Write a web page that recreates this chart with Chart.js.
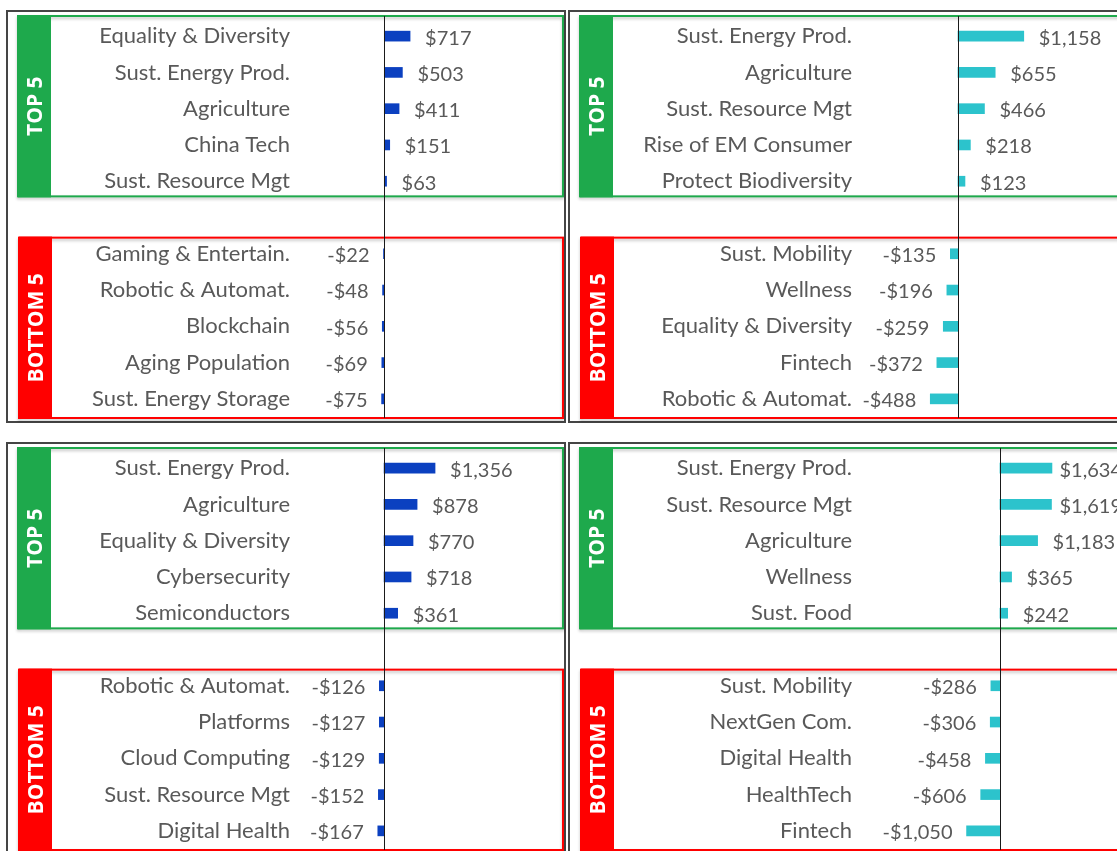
<!DOCTYPE html>
<html>
<head>
<meta charset="utf-8">
<script src="https://cdn.jsdelivr.net/npm/chart.js@4.4.1/dist/chart.umd.min.js"></script>
<style>
	html, body { margin:0; padding:0; background:#fff; overflow:hidden; width:1117px; height:851px; }
	canvas { position:absolute; }
</style>
</head>
<body>
<canvas id="tl" width="560" height="413" style="left:6px;top:10px"></canvas>
<canvas id="tr" width="560" height="413" style="left:568px;top:10px"></canvas>
<canvas id="bl" width="560" height="413" style="left:6px;top:442px"></canvas>
<canvas id="br" width="560" height="413" style="left:568px;top:442px"></canvas>
<script>
// top-left panel
const tl_top_labels = ['Equality & Diversity', 'Sust. Energy Prod.', 'Agriculture', 'China Tech', 'Sust. Resource Mgt'];
const tl_top_values = [717, 503, 411, 151, 63];
const tl_bottom_labels = ['Gaming & Entertain.', 'Robotic & Automat.', 'Blockchain', 'Aging Population', 'Sust. Energy Storage'];
const tl_bottom_values = [-22, -48, -56, -69, -75];

// top-right panel
const tr_top_labels = ['Sust. Energy Prod.', 'Agriculture', 'Sust. Resource Mgt', 'Rise of EM Consumer', 'Protect Biodiversity'];
const tr_top_values = [1158, 655, 466, 218, 123];
const tr_bottom_labels = ['Sust. Mobility', 'Wellness', 'Equality & Diversity', 'Fintech', 'Robotic & Automat.'];
const tr_bottom_values = [-135, -196, -259, -372, -488];

// bottom-left panel
const bl_top_labels = ['Sust. Energy Prod.', 'Agriculture', 'Equality & Diversity', 'Cybersecurity', 'Semiconductors'];
const bl_top_values = [1356, 878, 770, 718, 361];
const bl_bottom_labels = ['Robotic & Automat.', 'Platforms', 'Cloud Computing', 'Sust. Resource Mgt', 'Digital Health'];
const bl_bottom_values = [-126, -127, -129, -152, -167];

// bottom-right panel
const br_top_labels = ['Sust. Energy Prod.', 'Sust. Resource Mgt', 'Agriculture', 'Wellness', 'Sust. Food'];
const br_top_values = [1634, 1619, 1183, 365, 242];
const br_bottom_labels = ['Sust. Mobility', 'NextGen Com.', 'Digital Health', 'HealthTech', 'Fintech'];
const br_bottom_values = [-286, -306, -458, -606, -1050];

const section_titles = ['TOP 5', 'BOTTOM 5'];

let color_green = '#1ea94c';
let color_red = '#ff0000';
let color_text = '#595959';
let value_font = '20px Lato';

function money(v) {
	return (v < 0 ? '-' : '') + '$' + Math.abs(v).toLocaleString('en-US');
}

// boxes, side tabs, zero line and value labels
const frame_plugin = {
	id: 'frame',
	afterDraw(chart) {
		const ctx = chart.ctx;
		const ys = chart.scales.y;
		const xs = chart.scales.x;
		const area = chart.chartArea;
		const half = (ys.getPixelForValue(1) - ys.getPixelForValue(0)) / 2;

		ctx.save();
		// panel border
		ctx.strokeStyle = '#454545';
		ctx.lineWidth = 2;
		ctx.strokeRect(1, 1, chart.width - 2, chart.height - 2);

		const sections = [
			{from:0, to:4, color:color_green, title:section_titles[0], tab:12, dt:-2, db:-3},
			{from:6, to:10, color:color_red, title:section_titles[1], tab:13, dt:2, db:1}
		];
		let zero_top = 0, zero_bottom = 0;
		for (const s of sections) {
			let top = ys.getPixelForValue(s.from) - half + s.dt;
			let bottom = ys.getPixelForValue(s.to) + half + s.db;
			if (s.from == 0) zero_top = top;
			zero_bottom = bottom;
			ctx.save();
			ctx.shadowColor = 'rgba(0,0,0,0.25)';
			ctx.shadowBlur = 3;
			ctx.shadowOffsetY = 2;
			ctx.strokeStyle = s.color;
			ctx.lineWidth = 2;
			ctx.strokeRect(s.tab, top, area.right - s.tab, bottom - top);
			ctx.restore();
			ctx.fillStyle = s.color;
			ctx.fillRect(s.tab, top - 1, 33, bottom - top + 2);
			ctx.save();
			ctx.translate(s.tab + 17, (top + bottom) / 2);
			ctx.rotate(-Math.PI / 2);
			ctx.fillStyle = '#fff';
			ctx.font = 'bold 21px "Open Sans"';
			ctx.textAlign = 'center';
			ctx.textBaseline = 'middle';
			ctx.fillText(s.title, 0, 1);
			ctx.restore();
		}

		// zero line
		let x0 = Math.round(xs.getPixelForValue(0)) + 0.5;
		ctx.strokeStyle = '#1a1a1a';
		ctx.lineWidth = 1;
		ctx.beginPath();
		ctx.moveTo(x0, zero_top);
		ctx.lineTo(x0, zero_bottom);
		ctx.stroke();

		// value labels, pulled back in when they would run past the plot edge
		const meta = chart.getDatasetMeta(0);
		const vals = chart.data.datasets[0].data;
		ctx.font = value_font;
		ctx.fillStyle = color_text;
		ctx.textBaseline = 'middle';
		let limit = area.right - 3;
		meta.data.forEach((bar, i) => {
			let v = vals[i];
			if (v === null) return;
			let txt = money(v);
			if (v >= 0) {
				ctx.textAlign = 'left';
				let w = ctx.measureText(txt).width;
				ctx.fillText(txt, Math.min(bar.x + 15, limit - w), bar.y + 2);
			} else {
				ctx.textAlign = 'right';
				ctx.fillText(txt, bar.x - 14, bar.y + 2);
			}
		});
		ctx.restore();
	}
};

function panel(canvas, top_labels, top_values, bottom_labels, bottom_values, bar_color, x_min, x_max) {
	let labels = top_labels.concat([''], bottom_labels);
	let values = top_values.concat([null], bottom_values);

	new Chart(document.getElementById(canvas), {
		type: 'bar',
		data: {
			labels,
			datasets: [{
				data: values,
				backgroundColor: bar_color,
				barThickness: 10
			}]
		},
		options: {
			indexAxis: 'y',
			responsive: false,
			animation: false,
			devicePixelRatio: 1,
			layout: { padding: { top: 8, bottom: 6, left: 0, right: 3 } },
			plugins: { legend: { display: false }, tooltip: { enabled: false } },
			scales: {
				x: { display: false, min: x_min, max: x_max },
				y: {
					grid: { display: false, drawTicks: false },
					border: { display: false },
					ticks: { color: color_text, font: { family: 'Lato', size: 22 }, padding: 8, autoSkip: false },
					afterFit: s => { s.width = 292; s.paddingTop = 0; s.paddingBottom = 0; }
				}
			}
		},
		plugins: [frame_plugin]
	});
}

panel('tl', tl_top_labels, tl_top_values, tl_bottom_labels, tl_bottom_values, '#0b40c0', -2400, 4970);
panel('tr', tr_top_labels, tr_top_values, tr_bottom_labels, tr_bottom_values, '#2cc3cc', -1725, 2940);
panel('bl', bl_top_labels, bl_top_values, bl_bottom_labels, bl_bottom_values, '#0b40c0', -2290, 4760);
panel('br', br_top_labels, br_top_values, br_bottom_labels, br_bottom_values, '#2cc3cc', -4400, 3930);
</script>
</body>
</html>
